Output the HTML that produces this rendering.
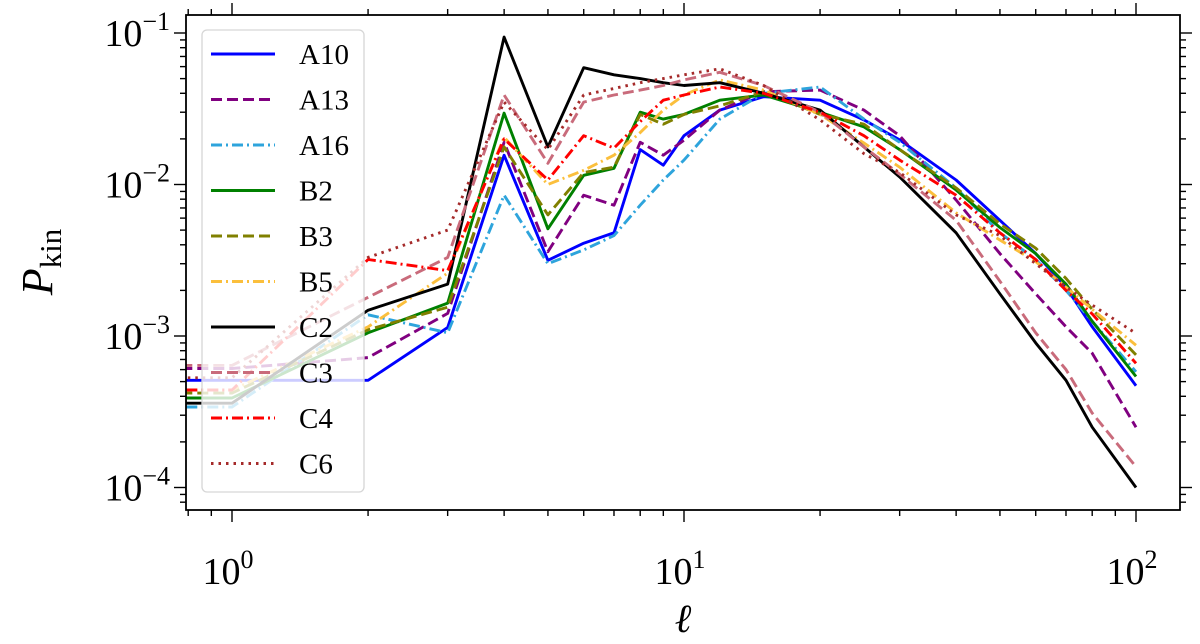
<!DOCTYPE html>
<html><head><meta charset="utf-8"><style>
html,body{margin:0;padding:0;background:#fff;}
svg{display:block;font-family:"Liberation Serif",serif;}
</style></head><body>
<svg id="chart" width="1200" height="644" viewBox="0 0 1200 644"></svg>
<script>
const ells = [1,2,3,4,5,6,7,8,9,10,12,15,20,25,30,40,50,60,70,80,100];
const seriesNames = ["A10","A13","A16","B2","B3","B5","C2","C3","C4","C6"];
const A10 = [5.1e-4,5.1e-4,1.14e-3,0.0156,3.16e-3,4.1e-3,4.8e-3,0.017,0.0134,0.021,0.031,0.038,0.036,0.0267,0.0197,0.0107,5.8e-3,3.5e-3,2.1e-3,1.15e-3,4.7e-4];
const A13 = [6.1e-4,7.2e-4,1.41e-3,0.019,3.6e-3,8.5e-3,7.3e-3,0.019,0.0156,0.0196,0.031,0.041,0.042,0.031,0.021,7.9e-3,3.5e-3,1.9e-3,1.15e-3,7.7e-4,2.5e-4];
const A16 = [3.4e-4,1.38e-3,1.05e-3,8.5e-3,3.0e-3,3.7e-3,4.6e-3,7.3e-3,0.0107,0.0145,0.027,0.040,0.044,0.027,0.019,9.5e-3,4.8e-3,3.2e-3,2.0e-3,1.25e-3,5.8e-4];
const B2  = [3.9e-4,1.05e-3,1.65e-3,0.0296,5.1e-3,0.0115,0.0128,0.030,0.027,0.029,0.036,0.039,0.030,0.024,0.017,9.2e-3,5.2e-3,3.5e-3,2.2e-3,1.25e-3,5.4e-4];
const B3  = [4.2e-4,1.1e-3,1.55e-3,0.0177,6.3e-3,0.012,0.013,0.029,0.025,0.029,0.033,0.041,0.029,0.025,0.017,9.5e-3,5.5e-3,3.8e-3,2.4e-3,1.5e-3,7.5e-4];
const B5  = [4.4e-4,1.15e-3,2.6e-3,0.0205,0.010,0.0124,0.0156,0.022,0.031,0.039,0.049,0.042,0.029,0.0188,0.013,6.5e-3,4.3e-3,3.1e-3,2.1e-3,1.5e-3,8.7e-4];
const C2  = [3.6e-4,1.48e-3,2.2e-3,0.094,0.0177,0.059,0.053,0.050,0.047,0.045,0.047,0.040,0.031,0.0177,0.0112,4.8e-3,1.9e-3,9e-4,5.1e-4,2.5e-4,1.0e-4];
const C3  = [6.4e-4,1.8e-3,3.3e-3,0.039,0.0138,0.035,0.039,0.042,0.045,0.049,0.055,0.045,0.030,0.0177,0.0117,5.8e-3,2.3e-3,1.05e-3,6.0e-4,3.1e-4,1.37e-4];
const C4  = [4.4e-4,3.2e-3,2.7e-3,0.020,0.0107,0.021,0.0174,0.026,0.036,0.039,0.044,0.040,0.030,0.021,0.0145,8.5e-3,4.8e-3,3.2e-3,2.0e-3,1.4e-3,6.6e-4];
const C6  = [5.3e-4,3.3e-3,5.0e-3,0.035,0.017,0.039,0.043,0.047,0.050,0.053,0.058,0.045,0.0267,0.016,0.012,6.3e-3,4.6e-3,3.0e-3,2.1e-3,1.6e-3,1.04e-3];
const xTickExps = [0,1,2];
const yTickExps = [-1,-2,-3,-4];

const NS="http://www.w3.org/2000/svg";
const svg=document.getElementById('chart');
const L=186,R=1180,T=15,B=510;
const x0=232, xDec=452, y0=33, yDec=151.5;
function xs(v){return x0+Math.log10(v)*xDec;}
function ys(v){return y0+(-1-Math.log10(v))*yDec;}
const xmin=Math.pow(10,(L-x0)/xDec), xmax=Math.pow(10,(R-x0)/xDec);
const ymax=Math.pow(10,-1-(T-y0)/yDec), ymin=Math.pow(10,-1-(B-y0)/yDec);
function mk(tag,attrs,parent){const e=document.createElementNS(NS,tag);for(const k in attrs)e.setAttribute(k,attrs[k]);(parent||svg).appendChild(e);return e;}

const defs=mk('defs',{});
const cp=mk('clipPath',{id:'clip'},defs);
mk('rect',{x:L,y:T,width:R-L,height:B-T},cp);

const styles={
 A10:{c:'#0000ff',d:''},A13:{c:'#800080',d:'11,5'},A16:{c:'#2ea4dc',d:'11,4,2,4'},
 B2:{c:'#008000',d:''},B3:{c:'#808000',d:'11,5'},B5:{c:'#fbbf3c',d:'11,4,2,4'},
 C2:{c:'#000000',d:''},C3:{c:'#c96b7b',d:'11,5'},C4:{c:'#ff0000',d:'11,4,2,4'},C6:{c:'#a52a2a',d:'2.5,5'}
};
const data={A10,A13,A16,B2,B3,B5,C2,C3,C4,C6};

const g=mk('g',{'clip-path':'url(#clip)'});


seriesNames.forEach(n=>{
  const vals=data[n];
  const pts=[[xs(xmin*0.9),ys(vals[0])]].concat(ells.map((l,i)=>[xs(l),ys(vals[i])]));
  const p=mk('polyline',{points:pts.map(p=>p[0].toFixed(1)+','+p[1].toFixed(1)).join(' '),fill:'none',stroke:styles[n].c,'stroke-width':2.9,'stroke-dasharray':styles[n].d,'stroke-linejoin':'round'},g);
  
  
});

const fr=mk('rect',{x:L,y:T,width:R-L,height:B-T,fill:'none',stroke:'#000','stroke-width':1.8});



const tg=mk('g',{stroke:'#000','stroke-width':1.4});


for(let e=-1;e<=2;e++){for(let m=1;m<10;m++){const v=m*Math.pow(10,e);if(v<xmin||v>xmax)continue;const x=xs(v);const len=m===1?12:6;
 mk('line',{x1:x,y1:B,x2:x,y2:B+len},tg);mk('line',{x1:x,y1:T,x2:x,y2:T-len},tg);}}
for(let e=-5;e<=-1;e++){for(let m=1;m<10;m++){const v=m*Math.pow(10,e);if(v<ymin||v>ymax)continue;const y=ys(v);const len=m===1?12:6;
 mk('line',{x1:L,y1:y,x2:L-len,y2:y},tg);mk('line',{x1:R,y1:y,x2:R+len,y2:y},tg);}}

xTickExps.forEach(e=>{
  const t=mk('text',{x:xs(Math.pow(10,e))-4,y:584,'text-anchor':'middle','font-size':38});
  
  
  t.appendChild(document.createTextNode('10'));
  const s=mk('tspan',{dy:-16,'font-size':26},t);s.textContent=String(e);
});
yTickExps.forEach(e=>{
  const t=mk('text',{x:170,y:ys(Math.pow(10,e))+13,'text-anchor':'end','font-size':38});
  
  
  t.appendChild(document.createTextNode('10'));
  const s=mk('tspan',{dy:-16,'font-size':26},t);s.textContent='\u2212'+Math.abs(e);
});

const xt=mk('text',{x:683,y:632,'text-anchor':'middle','font-size':40,'font-style':'italic'});


xt.textContent='\u2113';
const yt=mk('text',{transform:'translate(52,262) rotate(-90)','text-anchor':'middle','font-size':44,'font-style':'italic'});


yt.appendChild(document.createTextNode('P'));
const sub=mk('tspan',{dy:9,'font-size':31,'font-style':'normal'},yt);sub.textContent='kin';

const lg=mk('g',{});


mk('rect',{x:202,y:30,width:162,height:462,rx:5,fill:'rgba(255,255,255,0.8)',stroke:'#d6d6d6','stroke-width':1.3},lg);
seriesNames.forEach((n,i)=>{
  const y=54+i*45.5;
  const eg=mk('g',{},lg);
  
  
  mk('line',{x1:211,y1:y,x2:275,y2:y,stroke:styles[n].c,'stroke-width':2.9,'stroke-dasharray':styles[n].d},eg);
  const t=mk('text',{x:299,y:y+10,'font-size':29},eg);t.textContent=n;
});
</script>
</body></html>
